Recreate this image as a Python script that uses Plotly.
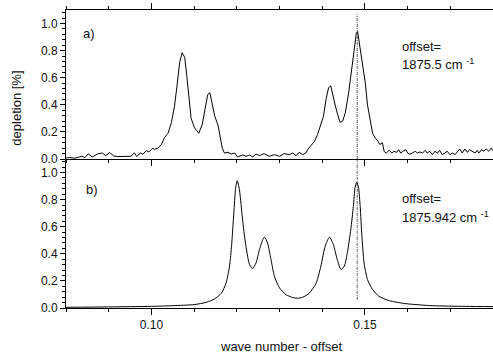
import plotly.graph_objects as go
from plotly.subplots import make_subplots

# ---- data ----
# panel a) measured depletion spectrum
a_x = [0.0800, 0.0809, 0.0821, 0.0829, 0.0837, 0.0844, 0.0852, 0.0862, 0.0874, 0.0885,
       0.0893, 0.0902, 0.0912, 0.0920, 0.0932, 0.0944, 0.0952, 0.0960, 0.0966, 0.0974,
       0.0980, 0.0988, 0.0994, 0.1002, 0.1008, 0.1015, 0.1023, 0.1031, 0.1039, 0.1047,
       0.1054, 0.1060, 0.1066, 0.1072, 0.1078, 0.1083, 0.1088, 0.1093, 0.1101, 0.1111,
       0.1119, 0.1127, 0.1132, 0.1137, 0.1143, 0.1148, 0.1156, 0.1160, 0.1166, 0.1171,
       0.1179, 0.1187, 0.1195, 0.1202, 0.1214, 0.1222, 0.1230, 0.1237, 0.1245, 0.1253,
       0.1264, 0.1276, 0.1288, 0.1300, 0.1311, 0.1323, 0.1331, 0.1339, 0.1346, 0.1354,
       0.1362, 0.1366, 0.1374, 0.1382, 0.1389, 0.1397, 0.1403, 0.1409, 0.1415, 0.1420,
       0.1424, 0.1431, 0.1436, 0.1442, 0.1448, 0.1454, 0.1462, 0.1470, 0.1475, 0.1480,
       0.1483, 0.1488, 0.1494, 0.1501, 0.1506, 0.1512, 0.1518, 0.1524, 0.1529, 0.1535,
       0.1541, 0.1545, 0.1550, 0.1557, 0.1563, 0.1568, 0.1574, 0.1579, 0.1584, 0.1589,
       0.1596, 0.1600, 0.1605, 0.1611, 0.1618, 0.1623, 0.1629, 0.1635, 0.1641, 0.1646,
       0.1652, 0.1658, 0.1664, 0.1670, 0.1675, 0.1681, 0.1688, 0.1693, 0.1699, 0.1705,
       0.1711, 0.1717, 0.1722, 0.1728, 0.1734, 0.1740, 0.1745, 0.1751, 0.1758, 0.1763,
       0.1767, 0.1773, 0.1779, 0.1784, 0.1790, 0.1796, 0.1800]
a_y = [0.008, 0.010, 0.006, 0.012, 0.020, 0.010, 0.038, 0.015, 0.038, 0.044,
       0.025, 0.048, 0.022, 0.018, 0.020, 0.022, 0.020, 0.045, 0.018, 0.045,
       0.035, 0.062, 0.052, 0.078, 0.072, 0.080, 0.105, 0.160, 0.190, 0.270,
       0.390, 0.540, 0.710, 0.785, 0.750, 0.610, 0.460, 0.300, 0.230, 0.190,
       0.254, 0.378, 0.476, 0.490, 0.410, 0.320, 0.250, 0.190, 0.080, 0.044,
       0.050, 0.037, 0.044, 0.015, 0.030, 0.020, 0.030, 0.015, 0.037, 0.025,
       0.040, 0.020, 0.032, 0.020, 0.040, 0.032, 0.044, 0.025, 0.050, 0.032,
       0.044, 0.070, 0.100, 0.130, 0.180, 0.267, 0.316, 0.440, 0.527, 0.540,
       0.480, 0.390, 0.330, 0.270, 0.280, 0.340, 0.490, 0.690, 0.830, 0.930,
       0.940, 0.830, 0.690, 0.560, 0.400, 0.290, 0.190, 0.155, 0.140, 0.107,
       0.120, 0.056, 0.044, 0.064, 0.044, 0.057, 0.049, 0.069, 0.044, 0.057,
       0.069, 0.044, 0.037, 0.044, 0.057, 0.044, 0.052, 0.044, 0.064, 0.044,
       0.057, 0.032, 0.057, 0.044, 0.064, 0.032, 0.044, 0.057, 0.032, 0.044,
       0.032, 0.057, 0.074, 0.044, 0.074, 0.049, 0.069, 0.057, 0.044, 0.064,
       0.044, 0.069, 0.057, 0.074, 0.057, 0.081, 0.060]

# panel b) simulated spectrum
b_x = [0.0800, 0.0900, 0.1000, 0.1050, 0.1100, 0.1129, 0.1148, 0.1164, 0.1175, 0.1183,
       0.1188, 0.1193, 0.1197, 0.1201, 0.1206, 0.1212, 0.1218, 0.1226, 0.1230, 0.1237,
       0.1245, 0.1253, 0.1261, 0.1265, 0.1272, 0.1280, 0.1288, 0.1300, 0.1315, 0.1331,
       0.1343, 0.1354, 0.1370, 0.1386, 0.1397, 0.1407, 0.1417, 0.1426, 0.1435, 0.1444,
       0.1452, 0.1459, 0.1467, 0.1473, 0.1477, 0.1481, 0.1485, 0.1489, 0.1493, 0.1498,
       0.1506, 0.1518, 0.1533, 0.1557, 0.1596, 0.1658, 0.1736, 0.1800]
b_y = [0.005, 0.008, 0.012, 0.017, 0.025, 0.042, 0.067, 0.110, 0.185, 0.310,
       0.470, 0.700, 0.877, 0.940, 0.877, 0.700, 0.530, 0.370, 0.320, 0.290,
       0.333, 0.430, 0.506, 0.523, 0.480, 0.360, 0.235, 0.148, 0.099, 0.077,
       0.072, 0.079, 0.110, 0.185, 0.310, 0.457, 0.523, 0.470, 0.360, 0.284,
       0.310, 0.410, 0.580, 0.750, 0.890, 0.930, 0.890, 0.750, 0.530, 0.333,
       0.210, 0.136, 0.086, 0.054, 0.032, 0.017, 0.012, 0.010]

# vertical marker line
vline_x = 0.1482
vline_a_y = [0.0, 1.07]
vline_b_y = [0.06, 1.1]

x_tick_vals = [0.10, 0.15]
x_tick_text = ["0.10", "0.15"]
y_tick_vals = [0.0, 0.2, 0.4, 0.6, 0.8, 1.0]
y_tick_text = ["0.0", "0.2", "0.4", "0.6", "0.8", "1.0"]

offset_a = "1875.5"
offset_b = "1875.942"

FONT = "Liberation Sans, Arial, sans-serif"

fig = make_subplots(rows=2, cols=1, shared_xaxes=True, vertical_spacing=0)

line_style = dict(color="black", width=1)
vline_style = dict(color="#333333", width=0.8, dash="3px,1px,1px,1px")

fig.add_trace(go.Scatter(x=a_x, y=a_y, mode="lines", line=line_style), row=1, col=1)
fig.add_trace(go.Scatter(x=[vline_x, vline_x], y=vline_a_y, mode="lines", line=vline_style), row=1, col=1)
fig.add_trace(go.Scatter(x=b_x, y=b_y, mode="lines", line=dict(color="black", width=1, shape="spline", smoothing=0.6)), row=2, col=1)
fig.add_trace(go.Scatter(x=[vline_x, vline_x], y=vline_b_y, mode="lines", line=vline_style), row=2, col=1)

xcommon = dict(
    range=[0.08, 0.18], tickmode="array", tickvals=x_tick_vals, ticktext=x_tick_text,
    ticks="outside", ticklen=6, tickwidth=1, tickcolor="black",
    showline=True, linecolor="black", linewidth=1, showgrid=False, zeroline=False,
    minor=dict(dtick=0.01, tick0=0.0, ticks="outside", ticklen=3, tickwidth=1,
               tickcolor="black", showgrid=False),
    tickfont=dict(family=FONT, size=12, color="#111"),
)
ycommon = dict(
    range=[0, 1.1], tickmode="array", tickvals=y_tick_vals, ticktext=y_tick_text,
    ticks="outside", ticklen=5, tickwidth=1, tickcolor="black",
    showline=True, linecolor="black", linewidth=1, showgrid=False, zeroline=False,
    minor=dict(dtick=0.04, tick0=0.0, ticks="outside", ticklen=3, tickwidth=1,
               tickcolor="black", showgrid=False),
    tickfont=dict(family=FONT, size=12, color="#111"),
)

fig.update_xaxes(**xcommon)
fig.update_xaxes(mirror="ticks", showticklabels=False, row=1, col=1)
fig.update_xaxes(showticklabels=True, row=2, col=1)
fig.update_yaxes(**ycommon)

ann_font = dict(family=FONT, size=13, color="#111")
annotations = [
    dict(text="a)", x=0.0854, y=0.93, xref="x", yref="y", showarrow=False, font=ann_font),
    dict(text="b)", x=0.0862, y=0.876, xref="x2", yref="y2", showarrow=False, font=ann_font),
    dict(text="offset=", x=0.1582, y=0.832, xref="x", yref="y", xanchor="left", showarrow=False, font=ann_font),
    dict(text=offset_a + " cm <sup>-1</sup>", x=0.1582, y=0.705, xref="x", yref="y", xanchor="left", showarrow=False, font=ann_font),
    dict(text="offset=", x=0.1582, y=0.81, xref="x2", yref="y2", xanchor="left", showarrow=False, font=ann_font),
    dict(text=offset_b + " cm <sup>-1</sup>", x=0.1582, y=0.672, xref="x2", yref="y2", xanchor="left", showarrow=False, font=ann_font),
    dict(text="depletion [%]", x=-0.115, y=0.672, xref="paper", yref="paper", textangle=-90,
         xanchor="center", yanchor="middle", showarrow=False, font=ann_font),
    dict(text="wave number - offset", x=0.505, y=-0.13, xref="paper", yref="paper",
         xanchor="center", yanchor="middle", showarrow=False, font=ann_font),
]

fig.update_layout(
    width=493, height=354,
    margin=dict(l=66, r=0, t=10, b=46),
    paper_bgcolor="white", plot_bgcolor="white",
    showlegend=False,
    annotations=annotations,
    font=dict(family=FONT, size=12, color="#111"),
)

# remove the default page margin so the figure fills the window exactly
fig.write_html(
    "out.html",
    config={"displayModeBar": False},
    post_script="document.body.style.margin='0';document.body.style.overflow='hidden';",
)
